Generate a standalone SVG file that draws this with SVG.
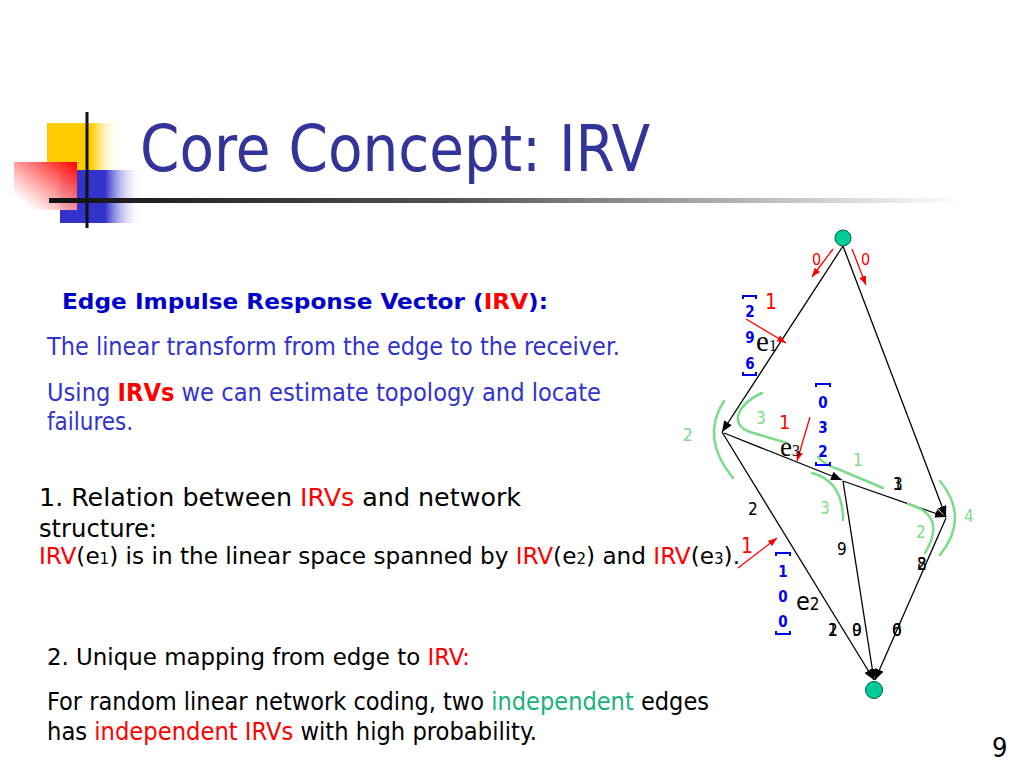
<svg xmlns="http://www.w3.org/2000/svg" width="1024" height="768" viewBox="0 0 1024 768">
<defs>
<style>
.t{font-family:"DejaVu Sans Condensed","DejaVu Sans",Tahoma,sans-serif}
.ser{font-family:"Liberation Serif","Times New Roman",serif}
.edge{stroke:#000;stroke-width:1.3;fill:none;marker-end:url(#ab)}
.redarr{stroke:#ff0000;stroke-width:1.3;fill:none;marker-end:url(#ar)}
.gc{stroke:#7ddc8a;stroke-width:2.5;fill:none;stroke-linecap:round}
.gl{fill:#7ddc8a;font-size:17px}
.rl{fill:#ff0000}
.bv{fill:#0000ee;font-size:15px;font-weight:bold;text-anchor:middle}
.br{stroke:#0000ee;stroke-width:2;fill:none}
.bl{fill:#000;font-size:17px}
.node{fill:#00cc99;stroke:#005a40;stroke-width:1}
</style>
<marker id="ab" markerUnits="userSpaceOnUse" markerWidth="12" markerHeight="10" refX="11" refY="4.5" orient="auto">
<path d="M0,0 L11,4.5 L0,9 z" fill="#000"/>
</marker>
<marker id="ar" markerUnits="userSpaceOnUse" markerWidth="10" markerHeight="8" refX="9" refY="3.5" orient="auto">
<path d="M0,0 L9,3.5 L0,7 z" fill="#ff0000"/>
</marker>
<linearGradient id="gy" x1="0" y1="0" x2="1" y2="0">
<stop offset="0" stop-color="#ffcc00"/>
<stop offset="0.62" stop-color="#ffcc00"/>
<stop offset="1" stop-color="#ffffff" stop-opacity="0"/>
</linearGradient>
<linearGradient id="gb" x1="0" y1="0" x2="1" y2="0">
<stop offset="0" stop-color="#3333cc"/>
<stop offset="0.55" stop-color="#3333cc"/>
<stop offset="1" stop-color="#ffffff" stop-opacity="0"/>
</linearGradient>
<linearGradient id="gr" x1="1" y1="0" x2="0" y2="1">
<stop offset="0" stop-color="#ff0000"/>
<stop offset="0.85" stop-color="#ffffff" stop-opacity="0.9"/>
<stop offset="1" stop-color="#ffffff" stop-opacity="0.6"/>
</linearGradient>
<linearGradient id="gl" x1="0" y1="0" x2="1" y2="0">
<stop offset="0" stop-color="#111111"/>
<stop offset="0.45" stop-color="#555555"/>
<stop offset="1" stop-color="#ffffff"/>
</linearGradient>
</defs>
<rect width="1024" height="768" fill="#ffffff"/>

<g id="logo">
<rect x="47" y="123" width="72" height="48" fill="url(#gy)"/>
<rect x="60" y="170" width="82" height="53" fill="url(#gb)"/>
<rect x="14" y="162" width="63" height="48" fill="url(#gr)"/>
<rect x="49" y="198" width="911" height="5" fill="url(#gl)"/>
<rect x="85.5" y="112" width="3" height="116" fill="#111111"/>
</g>

<text id="title" class="t" x="140" y="171" font-size="64" fill="#333399" textLength="510" lengthAdjust="spacingAndGlyphs">Core Concept: IRV</text>

<g id="body" class="t">
<text x="62" y="309" font-size="22" font-weight="bold" fill="#0000cc" textLength="486" lengthAdjust="spacingAndGlyphs">Edge Impulse Response Vector (<tspan fill="#ff0000">IRV</tspan>):</text>
<text x="47" y="355" font-size="25" fill="#3333cc" textLength="573" lengthAdjust="spacingAndGlyphs">The linear transform from the edge to the receiver.</text>
<text x="47" y="401" font-size="25" fill="#3333cc" textLength="554" lengthAdjust="spacingAndGlyphs">Using <tspan fill="#ff0000" font-weight="bold">IRVs</tspan> we can estimate topology and locate</text>
<text x="47" y="430" font-size="25" fill="#3333cc" textLength="86" lengthAdjust="spacingAndGlyphs">failures.</text>
<text x="39" y="506" font-size="25" fill="#000" textLength="482" lengthAdjust="spacingAndGlyphs">1. Relation between <tspan fill="#ff0000">IRVs</tspan> and network</text>
<text x="39" y="537" font-size="25" fill="#000" textLength="118" lengthAdjust="spacingAndGlyphs">structure:</text>
<text x="39" y="564" font-size="23" fill="#000" textLength="701" lengthAdjust="spacingAndGlyphs"><tspan fill="#ff0000">IRV</tspan>(e<tspan font-size="15">1</tspan>) is in the linear space spanned by <tspan fill="#ff0000">IRV</tspan>(e<tspan font-size="15">2</tspan>) and <tspan fill="#ff0000">IRV</tspan>(e<tspan font-size="15">3</tspan>).</text>
<text x="47" y="665" font-size="23" fill="#000" textLength="423" lengthAdjust="spacingAndGlyphs">2. Unique mapping from edge to <tspan fill="#ff0000">IRV:</tspan></text>
<text x="47" y="710" font-size="24" fill="#000" textLength="662" lengthAdjust="spacingAndGlyphs">For random linear network coding, two <tspan fill="#19b27a">independent</tspan> edges</text>
<text x="47" y="740" font-size="24" fill="#000" textLength="490" lengthAdjust="spacingAndGlyphs">has <tspan fill="#ff0000">independent IRVs</tspan> with high probability.</text>
<text x="992" y="757" font-size="27" fill="#000">9</text>
</g>

<g id="connectors">
<line class="edge" x1="843" y1="246" x2="722" y2="432"/>
<line class="edge" x1="724" y1="433" x2="842" y2="480"/>
<line class="edge" x1="843" y1="246" x2="946" y2="517"/>
<line class="edge" x1="843" y1="481" x2="946" y2="517"/>
<line class="edge" x1="722" y1="432" x2="874" y2="680"/>
<line class="edge" x1="843" y1="481" x2="874" y2="680"/>
<line class="edge" x1="946" y1="518" x2="875" y2="680"/>
</g>

<g id="node-source"><circle class="node" cx="843" cy="238" r="8"/></g>
<g id="node-sink"><circle class="node" cx="874" cy="690" r="8.5"/></g>

<g id="green-cuts">
<path class="gc" d="M724,401 Q700,438 733,478"/>
<path class="gc" d="M762,393 C738,404 728,424 750,432 L787,443"/>
<path class="gc" d="M818,457 Q826,466 838,469 L883,488"/>
<path class="gc" d="M812,473 Q843,481 843,520"/>
<path class="gc" d="M908,504 Q948,515 925,553"/>
<path class="gc" d="M940,481 Q970,518 940,555"/>
<g class="t">
<text class="gl" x="683" y="441">2</text>
<text class="gl" x="756" y="424">3</text>
<text class="gl" x="853" y="466">1</text>
<text class="gl" x="820" y="514">3</text>
<text class="gl" x="916" y="538">2</text>
<text class="gl" x="964" y="522">4</text>
</g>
</g>

<g id="red-inputs" class="t">
<line class="redarr" x1="833" y1="249" x2="812" y2="277"/>
<line class="redarr" x1="852" y1="249" x2="866" y2="285"/>
<line class="redarr" x1="746" y1="319" x2="786" y2="343"/>
<line class="redarr" x1="810" y1="417" x2="797" y2="461"/>
<line class="redarr" x1="738" y1="568" x2="777" y2="538"/>
<text class="rl" x="812" y="265" font-size="16">0</text>
<text class="rl" x="861" y="265" font-size="16">0</text>
<text class="rl" x="765" y="309" font-size="21">1</text>
<text class="rl" x="779" y="429" font-size="20">1</text>
<text class="rl" x="741" y="553" font-size="21">1</text>
</g>

<g id="irv-e1">
<path class="br" d="M743,299 V296 H756 V299"/>
<g class="t">
<text class="bv" x="750" y="317">2</text>
<text class="bv" x="750" y="343">9</text>
<text class="bv" x="750" y="369">6</text>
</g>
<path class="br" d="M743,372 V375 H756 V372"/>
<text class="ser" x="756" y="351" font-size="29" fill="#000">e<tspan font-size="16">1</tspan></text>
</g>

<g id="irv-e3">
<path class="br" d="M816,387 V384 H830 V387"/>
<g class="t">
<text class="bv" x="823" y="408">0</text>
<text class="bv" x="823" y="433">3</text>
<text class="bv" x="823" y="457">2</text>
</g>
<path class="br" d="M816,462 V465 H830 V462"/>
<text class="ser" x="780" y="456" font-size="27" fill="#000">e<tspan font-size="16">3</tspan></text>
</g>

<g id="irv-e2">
<path class="br" d="M776,556 V553 H790 V556"/>
<g class="t">
<text class="bv" x="783" y="577">1</text>
<text class="bv" x="783" y="602">0</text>
<text class="bv" x="783" y="627">0</text>
</g>
<path class="br" d="M776,631 V634 H790 V631"/>
<text class="t" x="796" y="610" font-size="25" fill="#000">e<tspan font-size="17">2</tspan></text>
</g>

<g id="edge-values" class="t">
<text class="bl" x="748" y="515">2</text>
<text class="bl" x="893" y="490">1</text>
<text class="bl" x="893" y="490">3</text>
<text class="bl" x="837" y="555">9</text>
<text class="bl" x="917" y="570">8</text>
<text class="bl" x="917" y="570">2</text>
<text class="bl" x="828" y="636">1</text>
<text class="bl" x="828" y="636">2</text>
<text class="bl" x="852" y="636">0</text>
<text class="bl" x="852" y="636">9</text>
<text class="bl" x="892" y="636">0</text>
<text class="bl" x="892" y="636">6</text>
</g>
</svg>
